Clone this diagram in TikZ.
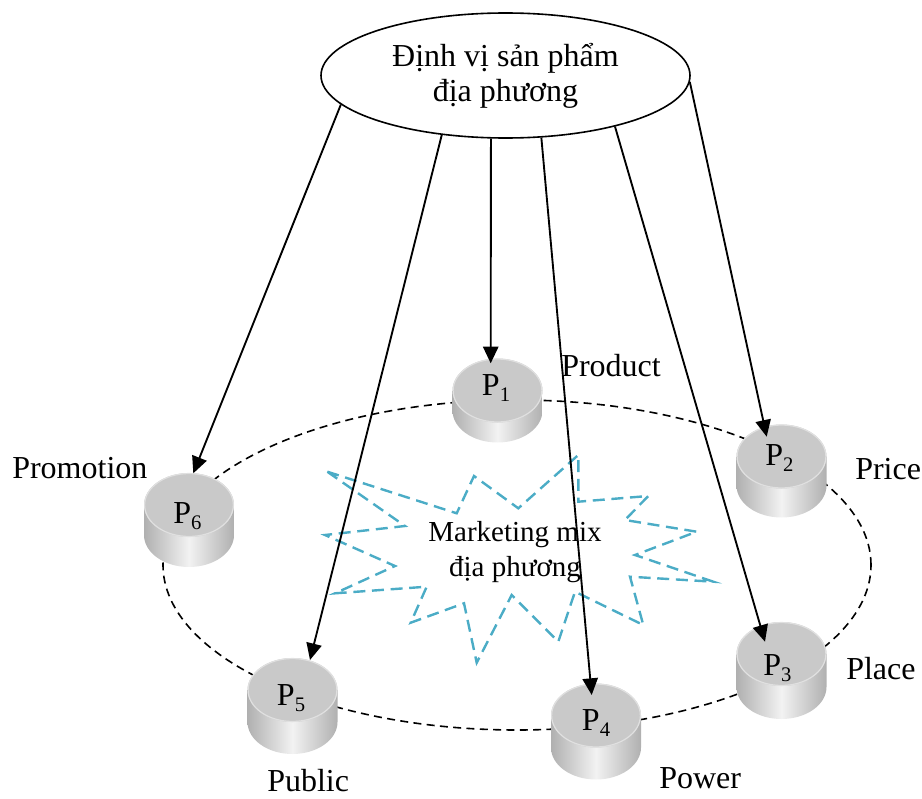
\documentclass[tikz,border=0pt]{standalone}
\usepackage{fontspec}
\setmainfont{Liberation Serif}
\usetikzlibrary{arrows.meta,shapes.geometric}
\definecolor{starblue}{HTML}{4BACC6}
\newcommand\cylinder[4]{%
  \shade[left color=gray!62,right color=gray!62,middle color=gray!10]
    (#2-45,#3) -- (#2-45,#3+#4) arc[start angle=180,end angle=360,x radius=33.75pt,y radius=24pt] -- (#2+45,#3) -- cycle;
  \fill[gray!42] (#2,#3) ellipse[x radius=33.75pt,y radius=24pt];
  \draw[gray!24,line width=0.9pt] (#2,#3) ellipse[x radius=33.3pt,y radius=23.6pt];
  \coordinate (#1) at (#2,#3);
}
\newcommand\Psub[1]{P\raisebox{-4.5pt}{\fontsize{15.5}{16}\selectfont #1}}
\begin{document}
\begin{tikzpicture}[x=0.75pt,y=-0.75pt,
  conn/.style={line width=1.4pt,-{Triangle[length=12.5pt,width=11.5pt]}},
  lbl/.style={anchor=base west,inner sep=0pt,font=\fontsize{24}{28}\selectfont},
  plbl/.style={anchor=base west,inner sep=0pt,font=\fontsize{24}{28}\selectfont},
  ring/.style={dashed,dash pattern=on 6pt off 4pt,line width=1.2pt},
  burst/.style={starblue,dash pattern=on 9pt off 5pt,line width=1.8pt}]
\useasboundingbox (0,0) rectangle (922,799);

% dashed ring
\draw[ring] (517,565) ellipse[x radius=265.5pt,y radius=123.75pt];

% starburst
\draw[burst] (327.3,471.7) -- (456.7,513.3) -- (474,476) -- (518.3,508.3) -- (578.3,455)
  -- (578.3,501.7) -- (648.3,496) -- (625,520) -- (696.7,531.7) -- (635,555)
  -- (713.3,581.7) -- (630,576.7) -- (643.3,625) -- (575,591.7) -- (558.3,641.7)
  -- (511.7,595) -- (476.7,662.7) -- (464,603.3) -- (410.7,622.7) -- (426.7,586.7)
  -- (335,593.3) -- (395,566) -- (325,535) -- (405,526) -- cycle;
\node[align=center,inner sep=0pt,font=\fontsize{21.75}{26.25}\selectfont] (mix) at (515,552) {Marketing mix\\địa phương};

% cylinders
\cylinder{c1}{497.5}{390.5}{20}
\cylinder{c2}{781.5}{456.5}{29}
\cylinder{c3}{781.5}{654}{33}
\cylinder{c4}{596}{715.5}{32}
\cylinder{c5}{292.5}{690}{32}
\cylinder{c6}{189}{505}{30}

\node[plbl] (p1) at (481.7,395) {\Psub{1}};
\node[plbl] (p2) at (765,465) {\Psub{2}};
\node[plbl] (p3) at (763,675) {\Psub{3}};
\node[plbl] (p4) at (581.7,730) {\Psub{4}};
\node[plbl] (p5) at (276.7,705) {\Psub{5}};
\node[plbl] (p6) at (173,523) {\Psub{6}};

% outer labels
\node[lbl] (product) at (561,376) {Product};
\node[lbl] (price) at (855,479) {Price};
\node[lbl] (place) at (846,679) {Place};
\node[lbl] (power) at (659,788) {Power};
\node[lbl] (public) at (267,791) {Public};
\node[lbl] (promotion) at (12,478) {Promotion};

% top ellipse
\node[ellipse,draw,line width=1.2pt,minimum width=276.75pt,minimum height=93.75pt,inner sep=0pt,
  align=center,font=\fontsize{24}{26.25}\selectfont] (top) at (505.5,75.5) {Định vị sản phẩm\\địa phương};

% arrow tips
\coordinate (t1) at (490.7,363.3);
\coordinate (t2) at (766.7,436.7);
\coordinate (t3) at (765,641.7);
\coordinate (t4) at (591.7,695);
\coordinate (t5) at (310,660);
\coordinate (t6) at (193.3,473.3);

\draw[conn] (top.-170.8) -- (t6);
\draw[conn] (top.-137.2) -- (t5);
\draw[conn] (top.-103.1) -- (t1);
\draw[conn] (top.-60.1) -- (t4);
\draw[conn] (top.-25) -- (t3);
\draw[conn] (top.-2.9) -- (t2);
\end{tikzpicture}
\end{document}
